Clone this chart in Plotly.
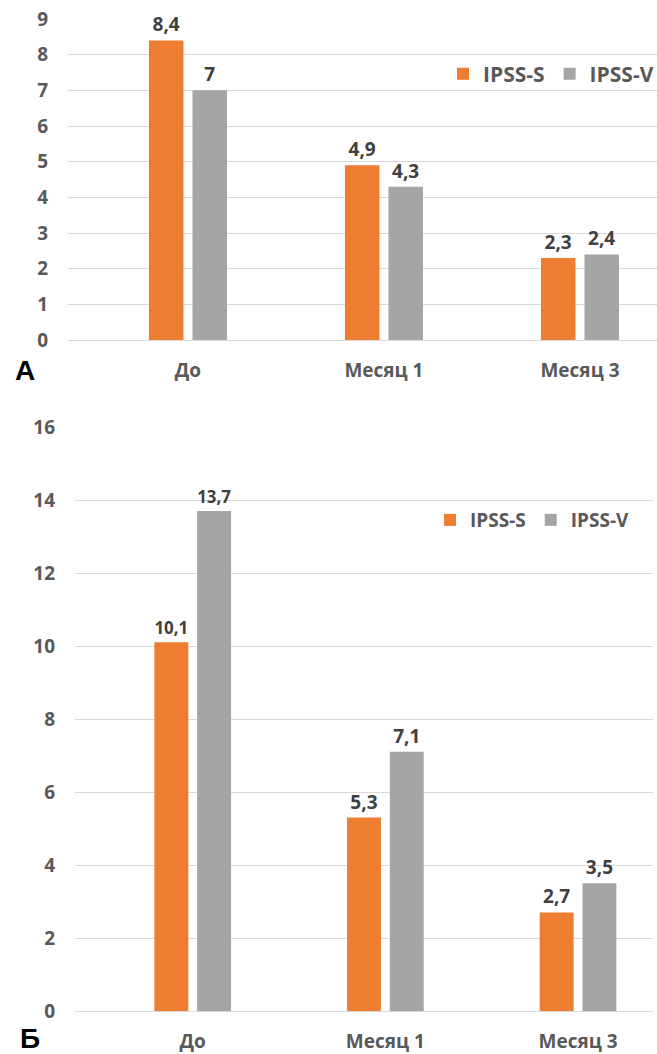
import plotly.graph_objects as go

# Data
categories = ["До", "Месяц 1", "Месяц 3"]
series_names = ["IPSS-S", "IPSS-V"]
panel_a_s = [8.4, 4.9, 2.3]
panel_a_v = [7.0, 4.3, 2.4]
panel_b_s = [10.1, 5.3, 2.7]
panel_b_v = [13.7, 7.1, 3.5]

ORANGE = "#ED7D31"
GREY = "#A5A5A5"
TEXT = "#595959"
LABEL = "#404040"
GRID = "#D9D9D9"
FONT = "Open Sans"

W, H = 657, 1054


def fmt(v):
    return f"{v:g}".replace(".", ",")


def bar(name, values, color, xa, ya, legend):
    return go.Bar(
        name=name, x=categories, y=values, marker_color=color,
        marker_line_width=0,
        text=[fmt(v) for v in values], textposition="outside",
        textfont=dict(family=FONT, size=19, color=LABEL, weight="bold"),
        cliponaxis=False, xaxis=xa, yaxis=ya, legend=legend,
    )


fig = go.Figure()
fig.add_trace(bar(series_names[0], panel_a_s, ORANGE, "x", "y", "legend"))
fig.add_trace(bar(series_names[1], panel_a_v, GREY, "x", "y", "legend"))
fig.add_trace(bar(series_names[0], panel_b_s, ORANGE, "x2", "y2", "legend2"))
fig.add_trace(bar(series_names[1], panel_b_v, GREY, "x2", "y2", "legend2"))

tick_font = dict(family=FONT, size=19, color=TEXT, weight="bold")


def yaxis(domain, rng, dtick, anchor):
    return dict(
        domain=domain, range=rng, dtick=dtick, anchor=anchor,
        showgrid=True, gridcolor=GRID, gridwidth=1,
        zeroline=True, zerolinecolor=GRID, zerolinewidth=1,
        showline=False, tickfont=tick_font, ticklabelstandoff=19,
        automargin=False, fixedrange=True,
    )


def xaxis(domain, rng, anchor, standoff):
    return dict(
        domain=domain, range=rng, anchor=anchor, type="category",
        showgrid=False, zeroline=False, showline=False,
        tickfont=tick_font, ticklabelstandoff=standoff,
        automargin=False, fixedrange=True,
    )


legend_common = dict(
    orientation="h", xanchor="left", yanchor="middle",
    bgcolor="rgba(0,0,0,0)", itemwidth=30, tracegroupgap=0,
)

panel_letter_font = dict(family="Liberation Sans", size=28, color="black", weight="bold")

fig.update_layout(
    width=W, height=H,
    margin=dict(l=0, r=0, t=0, b=0, autoexpand=False),
    paper_bgcolor="white", plot_bgcolor="white",
    barmode="group", bargap=0.556, bargroupgap=0.207,
    font=dict(family=FONT, color=TEXT),
    xaxis=xaxis([68 / W, 1.0], [-0.612, 2.393], "y", 17),
    yaxis=yaxis([1 - 340 / H, 1 - 19 / H], [0, 9], 1, "x"),
    xaxis2=xaxis([75 / W, 653 / W], [-0.611, 2.389], "y2", 17),
    yaxis2=yaxis([1 - 1011 / H, 1 - 427 / H], [0, 16], 2, "x2"),
    legend=dict(
        x=443 / W, y=1 - 74 / H,
        font=dict(family=FONT, size=21, color=TEXT, weight="bold"),
        **legend_common,
    ),
    legend2=dict(
        x=430 / W, y=1 - 520 / H,
        font=dict(family=FONT, size=19, color=TEXT, weight="bold"),
        **legend_common,
    ),
    annotations=[
        dict(text="А", x=25 / W, y=1 - 370 / H, xref="paper", yref="paper",
             xanchor="center", yanchor="middle", showarrow=False,
             font=panel_letter_font),
        dict(text="Б", x=30 / W, y=1 - 1038 / H, xref="paper", yref="paper",
             xanchor="center", yanchor="middle", showarrow=False,
             font=panel_letter_font),
    ],
)

fig.write_html("out.html")
